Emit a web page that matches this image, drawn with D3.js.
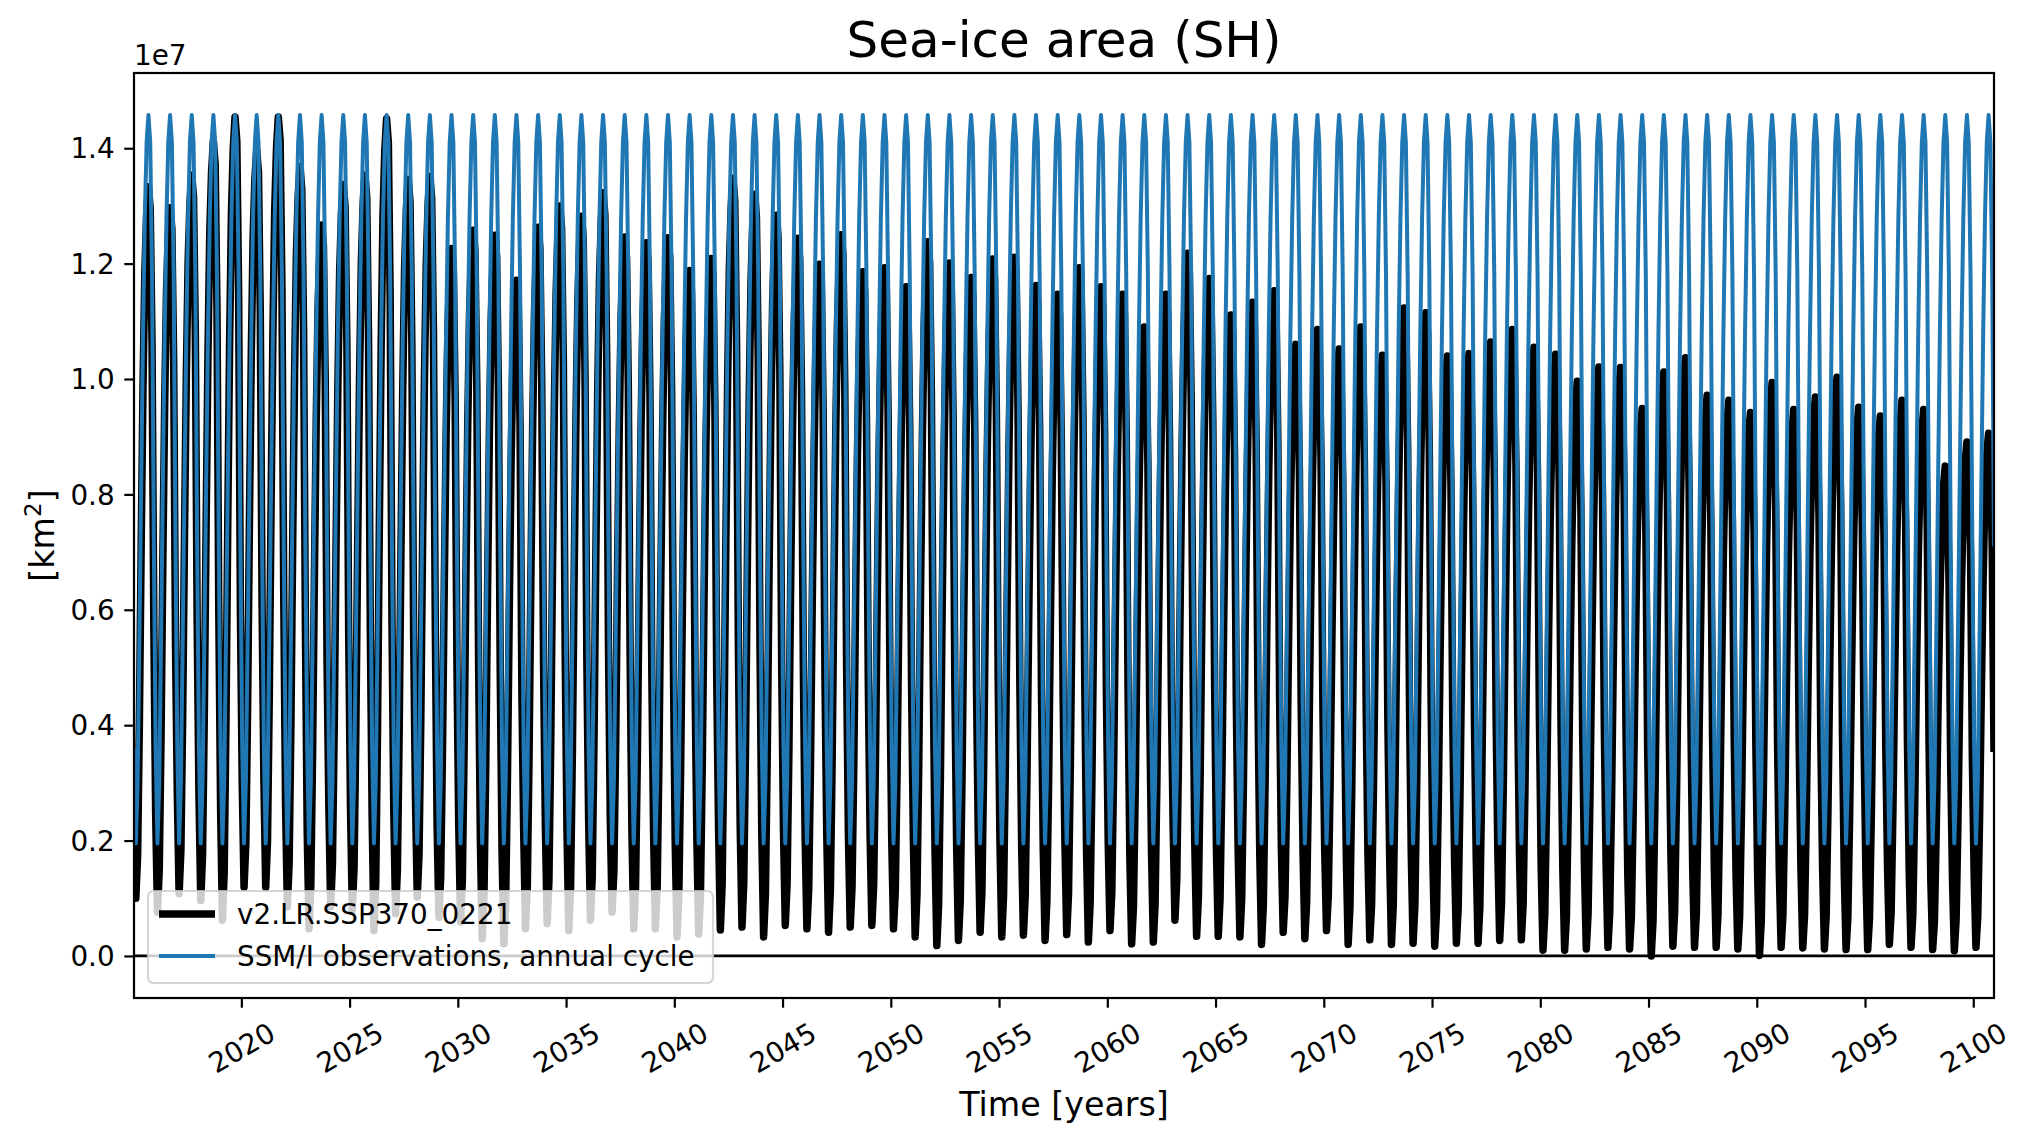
<!DOCTYPE html>
<html>
<head>
<meta charset="utf-8">
<script src="https://cdn.jsdelivr.net/npm/d3@7/dist/d3.min.js"></script>
<style>
  html, body { margin: 0; padding: 0; background: #ffffff; }
  svg { display: block; font-family: "DejaVu Sans", sans-serif; }
</style>
</head>
<body>
<svg id="chart" width="2030" height="1141"></svg>
<script>
// ---------------- DATA (values in units of 1e7 km^2) ----------------
const firstYear = 2015;
const lastYear = 2100;

// SSM/I observed annual cycle, Jan..Dec
const obsCycle = [0.36, 0.195, 0.30, 0.55, 0.82, 1.08, 1.28, 1.41, 1.4575, 1.41, 1.18, 0.71];

// Model (v2.LR.SSP370_0221): annual maximum (Sep), 2015..2100
const modelPeaks = [
  1.333, 1.297, 1.353, 1.412, 1.454, 1.397, 1.454, 1.368, 1.267, 1.337,
  1.353, 1.451, 1.346, 1.351, 1.226, 1.258, 1.249, 1.171, 1.263, 1.300,
  1.282, 1.323, 1.246, 1.236, 1.245, 1.188, 1.209, 1.348, 1.320, 1.284,
  1.244, 1.199, 1.250, 1.186, 1.193, 1.160, 1.238, 1.201, 1.176, 1.208,
  1.211, 1.162, 1.147, 1.193, 1.160, 1.147, 1.090, 1.147, 1.218, 1.174,
  1.111, 1.133, 1.153, 1.060, 1.086, 1.052, 1.090, 1.041, 1.123, 1.115,
  1.040, 1.044, 1.064, 1.086, 1.055, 1.043, 0.996, 1.021, 1.020, 0.949,
  1.012, 1.037, 0.972, 0.963, 0.942, 0.994, 0.947, 0.969, 1.003, 0.951,
  0.936, 0.963, 0.947, 0.849, 0.891, 0.906
];

// Model annual minimum (Feb), 2015..2100
const modelTroughs = [
  0.100, 0.076, 0.108, 0.096, 0.062, 0.119, 0.119, 0.085, 0.047, 0.085,
  0.079, 0.044, 0.073, 0.102, 0.067, 0.059, 0.030, 0.021, 0.047, 0.056,
  0.044, 0.062, 0.076, 0.047, 0.047, 0.033, 0.038, 0.045, 0.050, 0.033,
  0.053, 0.047, 0.041, 0.050, 0.053, 0.047, 0.033, 0.018, 0.027, 0.041,
  0.033, 0.036, 0.027, 0.037, 0.024, 0.044, 0.021, 0.024, 0.062, 0.034,
  0.034, 0.033, 0.020, 0.041, 0.030, 0.044, 0.020, 0.028, 0.020, 0.022,
  0.017, 0.022, 0.022, 0.027, 0.028, 0.010, 0.010, 0.012, 0.015, 0.012,
  0.000, 0.017, 0.015, 0.015, 0.012, 0.001, 0.015, 0.014, 0.012, 0.011,
  0.011, 0.020, 0.015, 0.011, 0.009, 0.015
];

const modelSeason = [0.14, 0.0, 0.06, 0.25, 0.50, 0.72, 0.88, 0.96, 1.0, 0.97, 0.78, 0.38];

const yTickValues = [0.0, 0.2, 0.4, 0.6, 0.8, 1.0, 1.2, 1.4];
const xTickValues = [2020, 2025, 2030, 2035, 2040, 2045, 2050, 2055, 2060, 2065, 2070, 2075, 2080, 2085, 2090, 2095, 2100];

const seriesNames = ["v2.LR.SSP370_0221", "SSM/I observations, annual cycle"];
const titleText = "Sea-ice area (SH)";
const xLabelText = "Time [years]";

// ---------------- BUILD SERIES ----------------
const modelSeries = [];
const obsSeries = [];
for (let y = firstYear; y <= lastYear; y++) {
  const i = y - firstYear;
  for (let m = 0; m < 12; m++) {
    const t = y + (m + 0.5) / 12;
    modelSeries.push({t, v: modelTroughs[i] + modelSeason[m] * (modelPeaks[i] - modelTroughs[i])});
    obsSeries.push({t, v: obsCycle[m]});
  }
}

// ---------------- LAYOUT ----------------
const W = 2030, H = 1141;
const plot = {left: 134, right: 1994, top: 73, bottom: 998};
const fs = 27.8;           // 10pt @ 200dpi
const svg = d3.select("#chart");

const allV = modelSeries.map(d => d.v).concat(obsSeries.map(d => d.v));
const vMin = d3.min(allV), vMax = d3.max(allV);
const pad = 0.05 * (vMax - vMin);

const x = d3.scaleLinear()
  .domain([modelSeries[0].t, modelSeries[modelSeries.length - 1].t])
  .range([plot.left, plot.right]);
const y = d3.scaleLinear()
  .domain([vMin - pad, vMax + pad])
  .range([plot.bottom, plot.top]);

svg.append("rect").attr("width", W).attr("height", H).attr("fill", "#fff");

svg.append("defs").append("clipPath").attr("id", "clip")
  .append("rect")
  .attr("x", plot.left).attr("y", plot.top)
  .attr("width", plot.right - plot.left).attr("height", plot.bottom - plot.top);

const line = d3.line().x(d => x(d.t)).y(d => y(d.v));

const g = svg.append("g").attr("clip-path", "url(#clip)");
g.append("path").datum(modelSeries)
  .attr("d", line).attr("fill", "none")
  .attr("stroke", "#000").attr("stroke-width", 7.5)
  .attr("stroke-linejoin", "round").attr("stroke-linecap", "butt");
g.append("path").datum(obsSeries)
  .attr("d", line).attr("fill", "none")
  .attr("stroke", "#1f77b4").attr("stroke-width", 4)
  .attr("stroke-linejoin", "round");
// horizontal zero line
g.append("line")
  .attr("x1", plot.left).attr("x2", plot.right)
  .attr("y1", y(0)).attr("y2", y(0))
  .attr("stroke", "#000").attr("stroke-width", 2.8);

// ---------------- AXES ----------------
const xAxis = d3.axisBottom(x).tickValues(xTickValues).tickSize(9.7).tickPadding(9.7).tickFormat(d3.format("d"));
const yAxis = d3.axisLeft(y).tickValues(yTickValues).tickSize(9.7).tickPadding(9.7).tickFormat(d3.format(".1f"));

const gx = svg.append("g").attr("transform", `translate(0,${plot.bottom})`).call(xAxis);
gx.select(".domain").remove();
gx.selectAll(".tick line").attr("stroke", "#000").attr("stroke-width", 2.2);
gx.selectAll(".tick text")
  .attr("font-size", fs).attr("fill", "#000")
  .attr("font-family", "DejaVu Sans")
  .attr("y", 0).attr("dy", null)
  .attr("text-anchor", "middle")
  .attr("dominant-baseline", "central")
  .attr("transform", "translate(0,50) rotate(-30)");

const gy = svg.append("g").attr("transform", `translate(${plot.left},0)`).call(yAxis);
gy.select(".domain").remove();
gy.selectAll(".tick line").attr("stroke", "#000").attr("stroke-width", 2.2);
gy.selectAll(".tick text")
  .attr("font-size", fs).attr("fill", "#000")
  .attr("font-family", "DejaVu Sans")
  .attr("dy", "0.35em");

// spines
svg.append("rect")
  .attr("x", plot.left).attr("y", plot.top)
  .attr("width", plot.right - plot.left).attr("height", plot.bottom - plot.top)
  .attr("fill", "none").attr("stroke", "#000").attr("stroke-width", 2.2);

// offset text
svg.append("text").attr("x", plot.left).attr("y", 65)
  .attr("font-size", fs).attr("fill", "#000").text("1e7");

// title
svg.append("text").attr("x", (plot.left + plot.right) / 2).attr("y", 57)
  .attr("text-anchor", "middle").attr("font-size", 50).attr("fill", "#000").text(titleText);

// x label
svg.append("text").attr("x", (plot.left + plot.right) / 2).attr("y", 1116)
  .attr("text-anchor", "middle").attr("font-size", 33.3).attr("fill", "#000").text(xLabelText);

// y label
const yl = svg.append("text")
  .attr("transform", `translate(54,${(plot.top + plot.bottom) / 2}) rotate(-90)`)
  .attr("text-anchor", "middle").attr("font-size", 33.3).attr("fill", "#000");
yl.append("tspan").text("[km");
yl.append("tspan").attr("font-size", 23).attr("dy", -13).text("2");
yl.append("tspan").attr("dy", 13).text("]");

// ---------------- LEGEND ----------------
const lg = svg.append("g");
lg.append("rect")
  .attr("x", 148).attr("y", 891).attr("width", 565).attr("height", 92)
  .attr("rx", 5.6).attr("ry", 5.6)
  .attr("fill", "rgba(255,255,255,0.8)")
  .attr("stroke", "rgba(204,204,204,0.8)").attr("stroke-width", 2.2);
const legendItems = [
  {name: seriesNames[0], color: "#000", w: 7.5, cy: 914},
  {name: seriesNames[1], color: "#1f77b4", w: 4, cy: 956}
];
legendItems.forEach(it => {
  lg.append("line").attr("x1", 159).attr("x2", 215)
    .attr("y1", it.cy).attr("y2", it.cy)
    .attr("stroke", it.color).attr("stroke-width", it.w);
  lg.append("text").attr("x", 237).attr("y", it.cy).attr("dy", "0.36em")
    .attr("font-size", fs).attr("fill", "#000").text(it.name);
});
</script>
</body>
</html>
